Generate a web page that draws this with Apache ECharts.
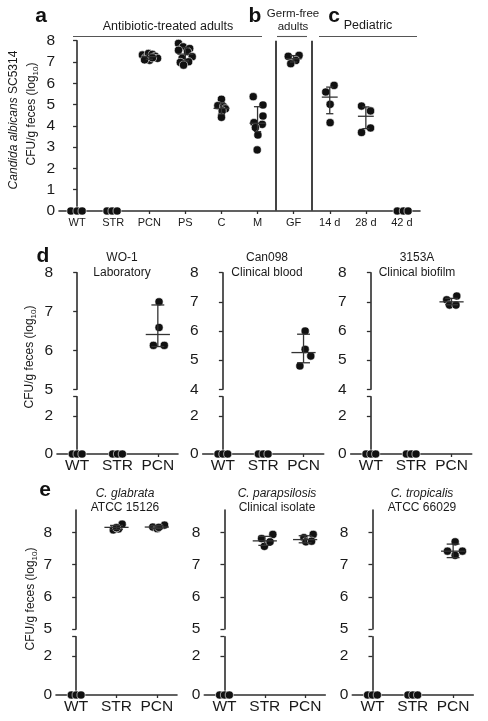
<!DOCTYPE html>
<html><head><meta charset="utf-8">
<script src="https://cdn.jsdelivr.net/npm/echarts@6/dist/echarts.min.js"></script>
<style>html,body{margin:0;padding:0;background:#fff}#c{width:488px;height:721px}</style>
</head><body><div id="c"></div>
<script>
// ---------------- DATA ----------------
// Panel a/b/c
const aCategories = ['WT','STR','PCN','PS','C','M','GF','14 d','28 d','42 d'];
const aValues = [
  [0,0,0],
  [0,0,0],
  [7.33,7.2,7.4,7.36,7.27,7.08,7.1,7.17,7.2],
  [7.87,7.71,7.63,7.55,7.48,7.25,7.17,7.01,6.98,6.85],
  [5.25,4.95,4.9,4.8,4.7,4.4],
  [5.37,4.98,4.46,4.15,4.07,3.92,3.57,2.87],
  [7.27,7.31,7.07,6.92],
  [5.9,5.59,5.01,4.15],
  [4.93,4.7,3.9,3.69],
  [0,0,0]
];
const aJitter = [
  [-0.17,0,0.14],
  [-0.17,-0.03,0.11],
  [-0.19,-0.1,-0.02,0.09,0.17,0.01,-0.13,0.23,0.09],
  [-0.19,-0.06,0.12,-0.19,0.06,0.19,-0.09,0.09,-0.14,-0.05],
  [0,-0.1,0.06,0.11,0.02,0],
  [-0.12,0.15,0.15,-0.1,0.13,-0.06,0.01,-0.01],
  [-0.15,0.15,0.06,-0.08],
  [0.12,-0.11,0.01,0.01],
  [-0.12,0.13,0.13,-0.12],
  [-0.13,0.04,0.17]
];
const aMean = [null,null,7.25,7.37,4.82,4.12,7.15,5.35,4.45,null];
const aLow  = [null,null,7.13,7.05,4.55,3.73,7.0,4.57,3.87,null];
const aHigh = [null,null,7.37,7.68,5.08,4.9,7.3,5.82,4.89,null];
const aYTicks = [0,1,2,3,4,5,6,7,8];
const aSeparators = [5.5, 6.5];

// Panels d and e
const strainCategories = ['WT','STR','PCN'];
const lowerTicks = [0,2];
const lowerRange = [0,3];

const dTitles = [['WO-1','Laboratory'],['Can098','Clinical blood'],['3153A','Clinical biofilm']];
const dValues = [
  [[0,0,0],[0,0,0],[7.25,6.59,6.13,6.13]],
  [[0,0,0],[0,0,0],[6.0,5.37,5.14,4.8]],
  [[0,0,0],[0,0,0],[7.07,7.2,6.89,6.89]]
];
const dJitter = [
  [[-0.12,0,0.12],[-0.12,0,0.12],[0.03,0.03,-0.11,0.16]],
  [[-0.12,0,0.12],[-0.12,0,0.12],[0.04,0.04,0.18,-0.09]],
  [[-0.12,0,0.12],[-0.12,0,0.12],[-0.12,0.13,-0.05,0.11]]
];
const dMean = [[null,null,6.41],[null,null,5.26],[null,null,7.0]];
const dLow  = [[null,null,6.1],[null,null,4.91],[null,null,6.9]];
const dHigh = [[null,null,7.17],[null,null,5.89],[null,null,7.12]];
const dUpperTicks = [[5,6,7,8],[4,5,6,7,8],[4,5,6,7,8]];
const dUpperRange = [[5,8],[4,8],[4,8]];

const eTitles = [['C. glabrata','ATCC 15126'],['C. parapsilosis','Clinical isolate'],['C. tropicalis','ATCC 66029']];
const eValues = [
  [[0,0,0],[8.08,8.11,8.26,8.15],[8.17,8.12,8.23,8.16]],
  [[0,0,0],[7.81,7.94,7.57,7.71],[7.84,7.94,7.71,7.73]],
  [[0,0,0],[0,0,0],[7.71,7.42,7.42,7.29]]
];
const eJitter = [
  [[-0.12,0,0.12],[-0.08,0.05,0.14,0.0],[-0.1,0.01,0.19,0.05]],
  [[-0.12,0,0.12],[-0.08,0.2,-0.01,0.13],[-0.03,0.2,0.02,0.16]],
  [[-0.12,0,0.12],[-0.12,0,0.12],[0.05,-0.14,0.23,0.05]]
];
const eMean = [[null,8.16,8.17],[null,7.74,7.78],[null,null,7.42]];
const eLow  = [[null,8.1,8.12],[null,7.6,7.68],[null,null,7.22]];
const eHigh = [[null,8.22,8.22],[null,7.88,7.9],[null,null,7.64]];
const eUpperTicks = [[5,6,7,8],[5,6,7,8],[5,6,7,8]];
const eUpperRange = [[5,8.7],[5,8.7],[5,8.7]];

// ---------------- STYLE / LAYOUT ----------------
const FONT = '"Liberation Sans", Arial, Helvetica, sans-serif';
const INK = '#1a1a1a', AX = '#2e2e2e';
const DOT = 8.2;
const YFS = 15.5;
const layoutA = {left:59, top:40.7, width:361, height:170.3};
const layoutD = {lefts:[57,202.7,350.7], width:121, upperTop:272.7, upperH:116.6, lowerTop:396.7, lowerH:57.3};
const layoutE = {lefts:[56,204.3,352.3], width:121, upperTop:510, upperH:119, lowerTop:636.7, lowerH:58.3};

const grids = [], xAxes = [], yAxes = [], series = [], graphics = [];

function addGrid(r){ grids.push(Object.assign({containLabel:false}, r)); return grids.length-1; }
function addHiddenX(gi, n){ xAxes.push({type:'value', gridIndex:gi, min:-0.5, max:n-0.5, show:false}); return xAxes.length-1; }
function addCatX(gi, cats, fs, margin){
  xAxes.push({type:'category', gridIndex:gi, data:cats, position:'bottom',
    axisLine:{show:true, lineStyle:{color:AX, width:1.6}},
    axisTick:{show:true, alignWithLabel:true, length:3, lineStyle:{color:AX, width:1.3}},
    axisLabel:{color:INK, fontSize:fs, fontFamily:FONT, margin:margin, interval:0},
    splitLine:{show:false}});
  return xAxes.length-1;
}
function addY(gi, min, max, labelVals, tickVals, fs){
  yAxes.push({type:'value', gridIndex:gi, min:min, max:max,
    axisLine:{show:true, lineStyle:{color:AX, width:1.6}},
    axisTick:{show:true, length:4, customValues:tickVals, lineStyle:{color:AX, width:1.3}},
    axisLabel:{color:INK, fontSize:fs, fontFamily:FONT, margin:4, customValues:labelVals},
    splitLine:{show:false}});
  return yAxes.length-1;
}
function scatter(xi, yi, data, extra){
  return Object.assign({type:'scatter', xAxisIndex:xi, yAxisIndex:yi, data:data, symbolSize:DOT,
    itemStyle:{color:'#111', borderColor:'#fff', borderWidth:0.6, opacity:1}, z:3, silent:true, clip:false}, extra||{});
}
function errBars(xi, yi, data, hwMean, hwCap){
  return {type:'custom', xAxisIndex:xi, yAxisIndex:yi, data:data, z:5, silent:true, clip:false,
    encode:{x:0, y:1},
    renderItem:function(params, api){
      const x=api.value(0), m=api.value(1), lo=api.value(2), hi=api.value(3);
      const st={stroke:'#333', lineWidth:1.3};
      const L=(p,q)=>({type:'line', shape:{x1:p[0],y1:p[1],x2:q[0],y2:q[1]}, style:st});
      return {type:'group', children:[
        L(api.coord([x-hwMean,m]), api.coord([x+hwMean,m])),
        L(api.coord([x,lo]), api.coord([x,hi])),
        L(api.coord([x-hwCap,hi]), api.coord([x+hwCap,hi])),
        L(api.coord([x-hwCap,lo]), api.coord([x+hwCap,lo]))
      ]};
    }};
}
function txt(x, y, text, opts){
  graphics.push({type:'text', x:x, y:y, rotation:(opts&&opts.rotation)||0, silent:true,
    style:Object.assign({text:text, fill:INK, fontFamily:FONT, fontSize:12,
      align:'center', verticalAlign:'middle', textAlign:'center', textVerticalAlign:'middle'}, (opts&&opts.style)||{})});
}
function hline(x1, x2, y, color, w){
  graphics.push({type:'line', silent:true, shape:{x1:x1,y1:y,x2:x2,y2:y}, style:{stroke:color, lineWidth:w}});
}

// ---------------- PANEL a ----------------
(function(){
  const g = addGrid(layoutA);
  const xv = addHiddenX(g, aCategories.length);
  addCatX(g, aCategories, 11, 6);
  const yi = addY(g, 0, 8, aYTicks, aYTicks, YFS);
  const pts = [];
  aValues.forEach((vals,i)=>vals.forEach((v,j)=>pts.push([i+aJitter[i][j], v])));
  series.push(scatter(xv, yi, pts, {markLine:{silent:true, symbol:'none', animation:false,
    label:{show:false}, lineStyle:{color:'#444', width:2, type:'solid'},
    data:aSeparators.map(s=>({xAxis:s}))}}));
  const eb = [];
  aMean.forEach((m,i)=>{ if(m!==null) eb.push([i, m, aLow[i], aHigh[i]]); });
  series.push(errBars(xv, yi, eb, 0.22, 0.1));
})();

// ---------------- PANELS d / e ----------------
function strainPanel(lay, p, values, jitter, mean, low, high, upTicks, upRange){
  const left = lay.lefts[p];
  const gu = addGrid({left:left, top:lay.upperTop, width:lay.width, height:lay.upperH});
  const gl = addGrid({left:left, top:lay.lowerTop, width:lay.width, height:lay.lowerH});
  const n = strainCategories.length;
  const xu = addHiddenX(gu, n);
  const xl = addHiddenX(gl, n);
  addCatX(gl, strainCategories, 15.5, 4);
  const yu = addY(gu, upRange[0], upRange[1], upTicks, upTicks, YFS);
  const yl = addY(gl, lowerRange[0], lowerRange[1], lowerTicks, lowerTicks.concat([lowerRange[1]]), YFS);
  const up = [], lo = [];
  values.forEach((vals,i)=>vals.forEach((v,j)=>{
    const pt=[i+jitter[i][j], v];
    if (v >= upRange[0]) up.push(pt); else lo.push(pt);
  }));
  series.push(scatter(xu, yu, up));
  series.push(scatter(xl, yl, lo));
  const eb = [];
  mean.forEach((m,i)=>{ if(m!==null) eb.push([i, m, low[i], high[i]]); });
  series.push(errBars(xu, yu, eb, 0.3, 0.16));
}
for (let p=0;p<3;p++){
  strainPanel(layoutD, p, dValues[p], dJitter[p], dMean[p], dLow[p], dHigh[p], dUpperTicks[p], dUpperRange[p]);
  strainPanel(layoutE, p, eValues[p], eJitter[p], eMean[p], eLow[p], eHigh[p], eUpperTicks[p], eUpperRange[p]);
}

// ---------------- TEXT ----------------
const bold = {fontSize:21, fontWeight:'bold', fill:'#111'};
txt(41, 16, 'a', {style:bold});
txt(255, 16, 'b', {style:bold});
txt(334, 16, 'c', {style:bold});
txt(43, 256, 'd', {style:bold});
txt(45, 490, 'e', {style:bold});

txt(168, 27, 'Antibiotic-treated adults', {style:{fontSize:12.5}});
txt(293, 14, 'Germ-free', {style:{fontSize:11.5}});
txt(293, 27, 'adults', {style:{fontSize:11.5}});
txt(368, 26, 'Pediatric', {style:{fontSize:12.5}});
hline(73, 262, 36.5, '#555', 1.1);
hline(277, 307, 36.5, '#555', 1.1);
hline(319, 417, 36.5, '#555', 1.1);

const dTitleX = [122, 267, 417];
dTitles.forEach((t,i)=>{ txt(dTitleX[i], 258, t[0]); txt(dTitleX[i], 273, t[1]); });
const eTitleX = [125, 277, 422];
eTitles.forEach((t,i)=>{ txt(eTitleX[i], 494, t[0], {style:{fontStyle:'italic'}}); txt(eTitleX[i], 508, t[1]); });

const cfuRich = {
  n:{fontSize:12, fontFamily:FONT, fill:INK, verticalAlign:'top', lineHeight:14},
  s:{fontSize:8, fontFamily:FONT, fill:INK, verticalAlign:'top', lineHeight:14, padding:[6,0,0,0]},
  i:{fontSize:12, fontFamily:FONT, fill:INK, fontStyle:'italic', verticalAlign:'top', lineHeight:14}
};
txt(15, 120, '{i|Candida albicans}{n| SC5314}', {rotation:Math.PI/2, style:{rich:cfuRich}});
txt(33, 114, '{n|CFU/g feces (log}{s|10}{n|)}', {rotation:Math.PI/2, style:{rich:cfuRich}});
txt(31, 357, '{n|CFU/g feces (log}{s|10}{n|)}', {rotation:Math.PI/2, style:{rich:cfuRich}});
txt(32, 599, '{n|CFU/g feces (log}{s|10}{n|)}', {rotation:Math.PI/2, style:{rich:cfuRich}});

const chart = echarts.init(document.getElementById('c'), null, {renderer:'canvas'});
chart.setOption({animation:false, backgroundColor:'#fff', grid:grids, xAxis:xAxes, yAxis:yAxes, series:series, graphic:graphics});
</script></body></html>
